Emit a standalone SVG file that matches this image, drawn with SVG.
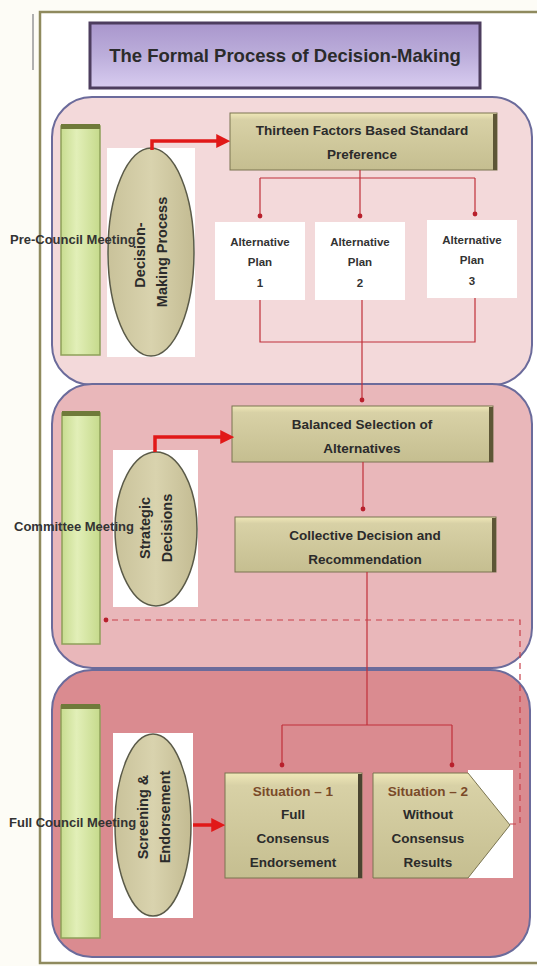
<svg xmlns="http://www.w3.org/2000/svg" width="537" height="966" viewBox="0 0 537 966">
<defs>
<style>
.panelb{stroke:#6b6b9b;stroke-width:2}
.bar{fill:url(#gbar);stroke:#8ea05a;stroke-width:1.5}
.ell{fill:url(#gell);stroke:#5a5a48;stroke-width:1.5}
.box{fill:url(#gbox);stroke:#7a7450;stroke-width:1}
.wt{fill:#ffffff}
.t{font-family:"Liberation Sans",Arial,sans-serif;fill:#2b2b2b;text-anchor:middle;font-weight:bold}
.bt{font-size:13.5px}
.at{font-size:11.5px;fill:#333}
.et{font-size:14.5px}
.lab{font-family:"Liberation Sans",Arial,sans-serif;font-weight:bold;font-size:13px;fill:#333}
.sit{fill:#7a4a28}
.red{stroke:#e11818;stroke-width:3.5;fill:none}
.thin{stroke:#c0303a;stroke-width:1.2;fill:none}
.dash{stroke:#c8404a;stroke-width:1.2;fill:none;stroke-dasharray:6 5}
</style>
<linearGradient id="gbox" x1="0" y1="0" x2="0" y2="1">
<stop offset="0" stop-color="#f0e8b8"/><stop offset="0.12" stop-color="#d8d1a6"/><stop offset="1" stop-color="#c5be90"/>
</linearGradient>
<linearGradient id="gbar" x1="0" y1="0" x2="1" y2="0">
<stop offset="0" stop-color="#c8dc90"/><stop offset="0.4" stop-color="#e2efb8"/><stop offset="1" stop-color="#c6da8c"/>
</linearGradient>
<linearGradient id="gell" x1="0" y1="0" x2="1" y2="0">
<stop offset="0" stop-color="#c9c29a"/><stop offset="0.5" stop-color="#d9d3ae"/><stop offset="1" stop-color="#c3bb92"/>
</linearGradient>
<linearGradient id="gtitle" x1="0" y1="0" x2="0" y2="1">
<stop offset="0" stop-color="#a996cc"/><stop offset="0.5" stop-color="#bcaedb"/><stop offset="1" stop-color="#d8ccf0"/>
</linearGradient>
<marker id="arr" markerWidth="4" markerHeight="4" refX="2.5" refY="2" orient="auto" markerUnits="strokeWidth">
<path d="M0,0 L4,2 L0,4 z" fill="#e11818"/>
</marker>
<marker id="dot" markerWidth="6" markerHeight="6" refX="3" refY="3" markerUnits="userSpaceOnUse">
<circle cx="3" cy="3" r="2.4" fill="#b8202c"/>
</marker>
</defs>

<rect x="0" y="0" width="537" height="966" fill="#fdfcf6"/>
<line x1="33" y1="14" x2="33" y2="70" stroke="#b0b0b0" stroke-width="2"/>
<rect x="40" y="12" width="505" height="951" fill="#ffffff" stroke="#8f8a5e" stroke-width="2.5"/>

<g id="title">
<rect x="90" y="23" width="390" height="65" fill="url(#gtitle)" stroke="#4d3d5e" stroke-width="3"/>
<text x="285" y="62" class="t" font-size="18.5" fill="#2a2a2a">The Formal Process of Decision-Making</text>
</g>

<g id="panel-precouncil">
<rect x="52" y="97" width="480" height="288" rx="40" fill="#f3d9da" class="panelb"/>
</g>
<g id="panel-committee">
<rect x="52" y="384" width="480" height="284" rx="40" fill="#e9b7ba" class="panelb"/>
</g>
<g id="panel-fullcouncil">
<rect x="52" y="670" width="478" height="287" rx="40" fill="#da8b90" class="panelb"/>
</g>

<g id="bars">
<rect x="61" y="126" width="39" height="229" class="bar"/>
<rect x="61" y="124" width="39" height="5" fill="#6f7a3a"/>
<rect x="62" y="413" width="38" height="231" class="bar"/>
<rect x="62" y="411" width="38" height="5" fill="#6f7a3a"/>
<rect x="61" y="706" width="39" height="232" class="bar"/>
<rect x="61" y="704" width="39" height="5" fill="#6f7a3a"/>
</g>

<g id="node-decision-making">
<rect x="107" y="148" width="88" height="209" class="wt"/>
<ellipse cx="151" cy="252" rx="43" ry="104" class="ell"/>
<text class="t et" transform="translate(140,255) rotate(-90)" dominant-baseline="central">Decision-</text>
<text class="t et" transform="translate(162,252) rotate(-90)" dominant-baseline="central">Making Process</text>
</g>
<g id="node-strategic">
<rect x="113" y="450" width="85" height="157" class="wt"/>
<ellipse cx="156" cy="529" rx="41" ry="77" class="ell"/>
<text class="t et" transform="translate(145,528) rotate(-90)" dominant-baseline="central">Strategic</text>
<text class="t et" transform="translate(167,528) rotate(-90)" dominant-baseline="central">Decisions</text>
</g>
<g id="node-screening">
<rect x="113" y="733" width="80" height="185" class="wt"/>
<ellipse cx="153" cy="825" rx="38" ry="91" class="ell"/>
<text class="t et" transform="translate(143,817) rotate(-90)" dominant-baseline="central">Screening &amp;</text>
<text class="t et" transform="translate(165,817) rotate(-90)" dominant-baseline="central">Endorsement</text>
</g>

<g id="labels">
<text x="10" y="244" class="lab">Pre-Council Meeting</text>
<text x="14" y="531" class="lab">Committee Meeting</text>
<text x="9" y="827" class="lab">Full Council Meeting</text>
</g>

<g id="node-thirteen">
<rect x="230" y="113" width="267" height="57" class="box"/>
<rect x="493" y="114" width="4" height="56" fill="#5d5636"/>
<text x="362" y="135" class="t bt">Thirteen Factors Based Standard</text>
<text x="362" y="159" class="t bt">Preference</text>
</g>

<g id="node-alt1">
<rect x="215" y="222" width="90" height="78" class="wt"/>
<text x="260" y="246" class="t at">Alternative</text>
<text x="260" y="266" class="t at">Plan</text>
<text x="260" y="287" class="t at">1</text>
</g>
<g id="node-alt2">
<rect x="315" y="222" width="90" height="78" class="wt"/>
<text x="360" y="246" class="t at">Alternative</text>
<text x="360" y="266" class="t at">Plan</text>
<text x="360" y="287" class="t at">2</text>
</g>
<g id="node-alt3">
<rect x="427" y="220" width="90" height="78" class="wt"/>
<text x="472" y="244" class="t at">Alternative</text>
<text x="472" y="264" class="t at">Plan</text>
<text x="472" y="285" class="t at">3</text>
</g>

<g id="node-balanced">
<rect x="232" y="406" width="261" height="56" class="box"/>
<rect x="489" y="407" width="4" height="55" fill="#5d5636"/>
<text x="362" y="429" class="t bt">Balanced Selection of</text>
<text x="362" y="453" class="t bt">Alternatives</text>
</g>
<g id="node-collective">
<rect x="235" y="517" width="261" height="55" class="box"/>
<rect x="492" y="518" width="4" height="54" fill="#5d5636"/>
<text x="365" y="540" class="t bt">Collective Decision and</text>
<text x="365" y="564" class="t bt">Recommendation</text>
</g>

<g id="node-situation1">
<rect x="225" y="773" width="137" height="105" class="box"/>
<rect x="358" y="774" width="4" height="104" fill="#4a4430"/>
<text x="293" y="796" class="t bt sit">Situation – 1</text>
<text x="293" y="819" class="t bt">Full</text>
<text x="293" y="843" class="t bt">Consensus</text>
<text x="293" y="867" class="t bt">Endorsement</text>
</g>
<g id="node-situation2">
<rect x="468" y="770" width="45" height="108" class="wt"/>
<path d="M373,773 L468,773 L510,825 L468,878 L373,878 z" class="box"/>
<text x="428" y="796" class="t bt sit">Situation – 2</text>
<text x="428" y="819" class="t bt">Without</text>
<text x="428" y="843" class="t bt">Consensus</text>
<text x="428" y="867" class="t bt">Results</text>
</g>

<g id="connectors">
<path d="M152,150 L152,141 L225,141" class="red" marker-end="url(#arr)"/>
<path d="M155,452 L155,437 L229,437" class="red" marker-end="url(#arr)"/>
<path d="M193,825 L220,825" class="red" stroke-width="5" marker-end="url(#arr)"/>
<path d="M360,170 L360,178" class="thin"/>
<path d="M260,178 L475,178" class="thin"/>
<path d="M260,178 L260,216" class="thin" marker-end="url(#dot)"/>
<path d="M360,178 L360,216" class="thin" marker-end="url(#dot)"/>
<path d="M475,178 L475,214" class="thin" marker-end="url(#dot)"/>
<path d="M260,300 L260,342 L475,342 L475,298" class="thin"/>
<path d="M362,300 L362,400" class="thin" marker-end="url(#dot)"/>
<path d="M363,462 L363,509" class="thin" marker-end="url(#dot)"/>
<path d="M367,572 L367,725" class="thin"/>
<path d="M282,725 L452,725" class="thin"/>
<path d="M282,725 L282,765" class="thin" marker-end="url(#dot)"/>
<path d="M452,725 L452,765" class="thin" marker-end="url(#dot)"/>
<path d="M510,824 L520,824 L520,620 L106,620" class="dash" marker-end="url(#dot)"/>
</g>
</svg>
